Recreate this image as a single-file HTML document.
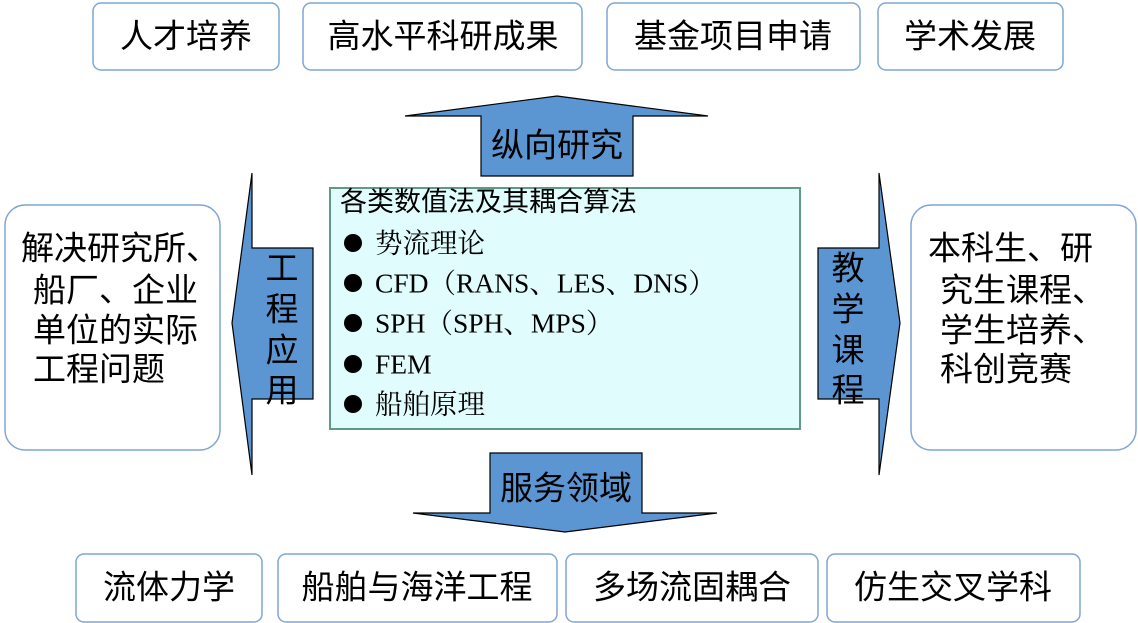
<!DOCTYPE html>
<html><head><meta charset="utf-8"><style>
html,body{margin:0;padding:0;background:#fff;}
svg{display:block;}
text{font-family:"Liberation Sans","Noto Sans CJK SC",sans-serif;fill:#000;}
.s{font-family:"Liberation Serif","Noto Serif CJK SC","Noto Sans CJK SC",serif;}
</style></head><body>
<svg width="1138" height="623" viewBox="0 0 1138 623" xmlns="http://www.w3.org/2000/svg">
<g fill="#fff" stroke="#7fa6d4" stroke-width="1.5">
<rect x="93" y="3" width="186" height="67" rx="8"/>
<rect x="303" y="3" width="279" height="67" rx="8"/>
<rect x="607" y="3" width="253" height="67" rx="8"/>
<rect x="878" y="3" width="185" height="67" rx="8"/>
<rect x="76" y="554" width="186" height="68" rx="8"/>
<rect x="278" y="554" width="279" height="68" rx="8"/>
<rect x="566" y="554" width="252" height="68" rx="8"/>
<rect x="827" y="554" width="253" height="68" rx="8"/>
<rect x="5" y="205" width="215" height="245" rx="20"/>
<rect x="911" y="205" width="225" height="245" rx="20"/>
</g>
<g font-size="33" text-anchor="middle" dominant-baseline="central">
<text x="186" y="36">人才培养</text>
<text x="443" y="36">高水平科研成果</text>
<text x="733" y="36">基金项目申请</text>
<text x="970" y="36">学术发展</text>
<text x="169" y="587">流体力学</text>
<text x="417" y="587">船舶与海洋工程</text>
<text x="692" y="587">多场流固耦合</text>
<text x="953" y="587">仿生交叉学科</text>
</g>
<g fill="#5b96d3" stroke="#000" stroke-width="1.2">
<polygon points="557,96 708,116 633,116 633,176 481,176 481,116 405,116"/>
<polygon points="565,532 717,513 642,513 642,453 490,453 490,513 413,513"/>
<polygon points="232,323 252,173 252,248 313,248 313,399 252,399 252,475"/>
<polygon points="900,323 879,173 879,248 818,248 818,399 879,399 879,475"/>
</g>
<rect x="330" y="188" width="470" height="241" fill="#e0fcfc" stroke="#5f9a86" stroke-width="2"/>
<g font-size="33" text-anchor="middle" dominant-baseline="central">
<text x="557" y="145">纵向研究</text>
<text x="566" y="488">服务领域</text>
<text x="282" y="268">工</text><text x="282" y="309">程</text><text x="282" y="350">应</text><text x="282" y="390">用</text>
<text x="848" y="268">教</text><text x="848" y="309">学</text><text x="848" y="350">课</text><text x="848" y="390">程</text>
</g>
<g font-size="33" dominant-baseline="central">
<text x="21" y="248">解决研究所、</text>
<text x="33" y="290">船厂、企业</text>
<text x="33" y="330">单位的实际</text>
<text x="33" y="369">工程问题</text>
<text x="928" y="248">本科生、研</text>
<text x="940" y="290">究生课程、</text>
<text x="940" y="330">学生培养、</text>
<text x="940" y="369">科创竞赛</text>
</g>
<text x="340" y="202" font-size="27" dominant-baseline="central">各类数值法及其耦合算法</text>
<g fill="#000"><circle cx="353" cy="243" r="9"/><circle cx="353" cy="283" r="9"/><circle cx="353" cy="323" r="9"/><circle cx="353" cy="364" r="9"/><circle cx="353" cy="404" r="9"/></g>
<g font-size="27.5" dominant-baseline="central">
<text class="s" x="375" y="243">势流理论</text>
<text class="s" x="375" y="283">CFD（RANS、LES、DNS）</text>
<text class="s" x="375" y="323">SPH（SPH、MPS）</text>
<text class="s" x="375" y="364">FEM</text>
<text class="s" x="375" y="404">船舶原理</text>
</g>
</svg>
</body></html>
